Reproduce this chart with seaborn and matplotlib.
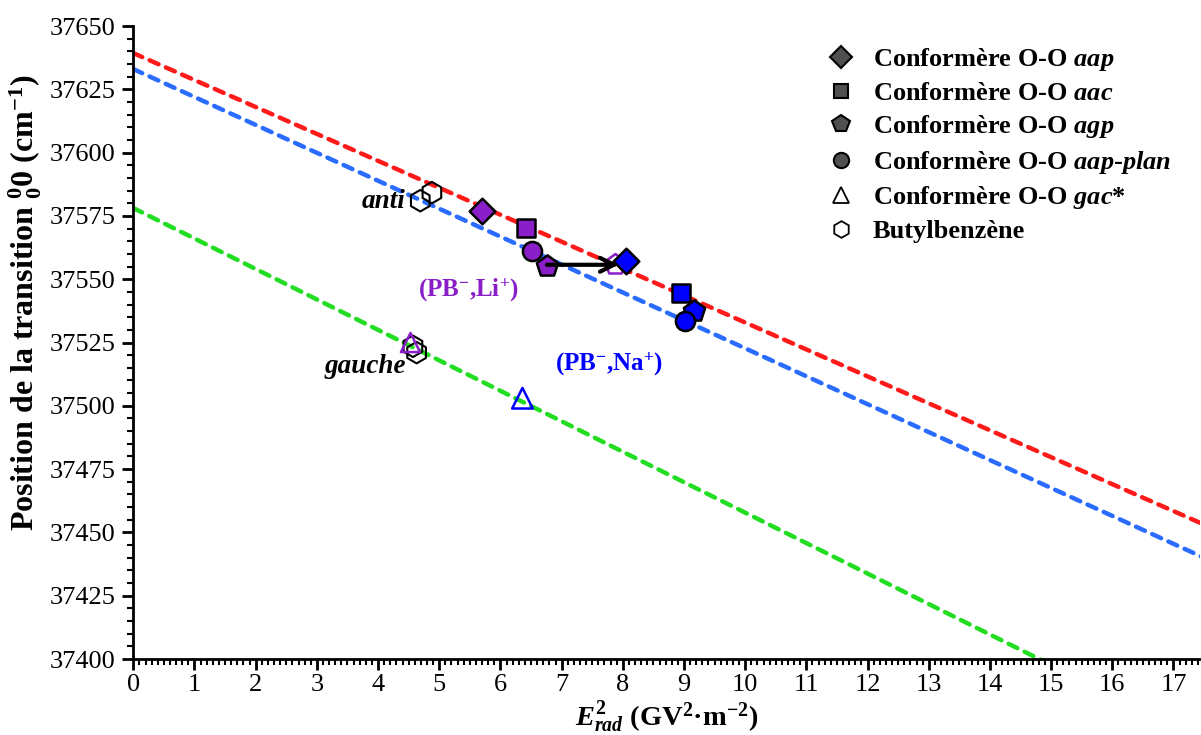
import matplotlib
matplotlib.use("Agg")
import matplotlib.pyplot as plt
from matplotlib.lines import Line2D
from matplotlib.ticker import MultipleLocator
import numpy as np
import pandas as pd
import seaborn as sns

# ---------------- data ----------------
conformers = ["aap", "aac", "agp", "aap-plan"]
li_x = [5.70, 6.42, 6.76, 6.51]
li_y = [37577.1, 37570.1, 37555.3, 37561.3]
na_x = [8.06, 8.95, 9.17, 9.01]
na_y = [37557.3, 37544.5, 37537.5, 37533.5]

shifted_agp_x = [7.88]
shifted_agp_y = [37555.7]

gac_li_x = [4.53]
gac_li_y = [37525.0]
gac_na_x = [6.36]
gac_na_y = [37503.0]

butyl_x = [4.69, 4.88, 4.57, 4.63]
butyl_y = [37581.0, 37584.2, 37523.5, 37521.0]

fit_names = ["red", "blue", "green"]
fit_intercepts = [37639.3, 37633.0, 37578.1]
fit_slopes = [-10.64, -11.03, -12.03]
fit_colors = ["#ff1a1a", "#2a6cff", "#22dd22"]

legend_labels = [
    "Conformère O-O $aap$",
    "Conformère O-O $aac$",
    "Conformère O-O $agp$",
    "Conformère O-O $aap$-$plan$",
    "Conformère O-O $gac$*",
    "Butylbenzène",
]

marker_map = {"aap": "D", "aac": "s", "agp": "p", "aap-plan": "o"}
size_map = {"aap": 170, "aac": 170, "agp": 260, "aap-plan": 190}

purple = "#8a1ec8"
blue = "#0000ff"

# ---------------- style ----------------
sns.set_theme(style="ticks")
plt.rcParams["font.family"] = ["Liberation Serif", "DejaVu Serif"]
plt.rcParams["mathtext.fontset"] = "custom"
plt.rcParams["mathtext.rm"] = "Liberation Serif:bold"
plt.rcParams["mathtext.bf"] = "Liberation Serif:bold"
plt.rcParams["mathtext.it"] = "Liberation Serif:bold:italic"
plt.rcParams["text.color"] = "black"
plt.rcParams["axes.labelcolor"] = "black"
plt.rcParams["xtick.color"] = "black"
plt.rcParams["ytick.color"] = "black"
plt.rcParams["xtick.labelcolor"] = "black"
plt.rcParams["ytick.labelcolor"] = "black"

fig = plt.figure(figsize=(12.01, 7.35), dpi=100)
ax = fig.add_axes([0.111, 0.1034, 0.888, 0.8612])

xmin, xmax = 0, 17.43
ymin, ymax = 37400, 37650

# fit lines
xs = np.array([xmin, 17.6])
for a, b, c in zip(fit_intercepts, fit_slopes, fit_colors):
    df_line = pd.DataFrame({"x": xs, "y": a + b * xs})
    sns.lineplot(data=df_line, x="x", y="y", color=c, lw=3.2,
                 dashes=False, ax=ax, zorder=2)
for line in ax.get_lines():
    line.set_linestyle((0, (2.2, 1.8)))
    line.set_dash_capstyle("round")

# Li and Na complexes
df = pd.DataFrame({
    "conf": conformers * 2,
    "x": li_x + na_x,
    "y": li_y + na_y,
    "ion": ["Li"] * 4 + ["Na"] * 4,
})
for conf in conformers:
    for ion, col in [("Li", purple), ("Na", blue)]:
        sub = df[(df.conf == conf) & (df.ion == ion)]
        sns.scatterplot(data=sub, x="x", y="y", marker=marker_map[conf],
                        s=size_map[conf], color=col, edgecolor="black",
                        linewidth=1.8, ax=ax, zorder=5, legend=False)

# shifted agp (hollow purple pentagon)
sns.scatterplot(x=shifted_agp_x, y=shifted_agp_y, marker="p", s=240,
                facecolor="none", edgecolor=purple, linewidth=1.8, ax=ax,
                zorder=4, legend=False)

# gac* triangles
sns.scatterplot(x=gac_li_x, y=gac_li_y, marker="^", s=190,
                facecolor="none", edgecolor=purple, linewidth=1.8, ax=ax,
                zorder=6, legend=False)
sns.scatterplot(x=gac_na_x, y=gac_na_y, marker="^", s=220,
                facecolor="none", edgecolor=blue, linewidth=1.8, ax=ax,
                zorder=6, legend=False)

# butylbenzene hexagons
sns.scatterplot(x=butyl_x, y=butyl_y, marker="h", s=240,
                facecolor="none", edgecolor="black", linewidth=1.5, ax=ax,
                zorder=5, legend=False)

# arrow from agp Li to shifted position
ax.annotate("", xy=(shifted_agp_x[0] + 0.05, shifted_agp_y[0]),
            xytext=(li_x[2], shifted_agp_y[0]),
            arrowprops=dict(arrowstyle="->", lw=3, color="black",
                            mutation_scale=25, shrinkA=0, shrinkB=0),
            zorder=7)

# annotations
ax.text(4.45, 37580.5, "anti", ha="right", va="center", fontsize=19.5,
        fontweight="bold", fontstyle="italic", color="black")
ax.text(4.45, 37515.5, "gauche", ha="right", va="center", fontsize=19.5,
        fontweight="bold", fontstyle="italic", color="black")
ax.text(5.48, 37545.5, "(PB$^{-}$,Li$^{+}$)", ha="center", va="center",
        fontsize=18, fontweight="bold", color=purple)
ax.text(7.78, 37516.5, "(PB$^{-}$,Na$^{+}$)", ha="center", va="center",
        fontsize=18, fontweight="bold", color=blue)

# axes
ax.set_xlim(xmin, xmax)
ax.set_ylim(ymin, ymax)
ax.xaxis.set_major_locator(MultipleLocator(1))
ax.xaxis.set_minor_locator(MultipleLocator(0.1))
ax.yaxis.set_major_locator(MultipleLocator(25))
ax.yaxis.set_minor_locator(MultipleLocator(5))
ax.tick_params(axis="both", which="major", direction="out", length=8,
               width=2, labelsize=19, color="black", labelcolor="black",
               pad=5)
ax.tick_params(axis="x", which="major", pad=3)
ax.tick_params(axis="both", which="minor", direction="out", length=4,
               width=1.5, color="black")
for lab in ax.get_xticklabels() + ax.get_yticklabels():
    lab.set_fontweight("normal")
sns.despine(ax=ax)
for sp in ["left", "bottom"]:
    ax.spines[sp].set_linewidth(2)
    ax.spines[sp].set_color("black")

ax.set_xlabel("$E^{2}_{rad}$ (GV$^{2}$·m$^{-2}$)", fontsize=20.5,
              fontweight="bold", color="black")
ax.xaxis.set_label_coords(0.5, -0.064)
ax.set_ylabel("Position de la transition ${}^{0}_{0}$0 (cm$^{-1}$)",
              fontsize=23, fontweight="bold", color="black")
ax.yaxis.set_label_coords(-0.084, 0.5625)

# legend
leg_gray = "#505050"
handles = [
    Line2D([], [], ls="none", marker="D", ms=11, mfc=leg_gray, mec="black", mew=1.5),
    Line2D([], [], ls="none", marker="s", ms=10, mfc=leg_gray, mec="black", mew=1.5),
    Line2D([], [], ls="none", marker="p", ms=13, mfc=leg_gray, mec="black", mew=1.5),
    Line2D([], [], ls="none", marker="o", ms=11, mfc=leg_gray, mec="black", mew=1.5),
    Line2D([], [], ls="none", marker="^", ms=12, mfc="none", mec="black", mew=1.3),
    Line2D([], [], ls="none", marker="h", ms=12, mfc="none", mec="black", mew=1.3),
]
leg = ax.legend(handles, legend_labels, loc="upper right",
                bbox_to_anchor=(0.995, 1.006), frameon=False,
                prop={"weight": "bold", "size": 19}, handletextpad=0.45,
                labelspacing=0.32, handlelength=1.5, labelcolor="black")

fig.savefig("out.png", dpi=100)
